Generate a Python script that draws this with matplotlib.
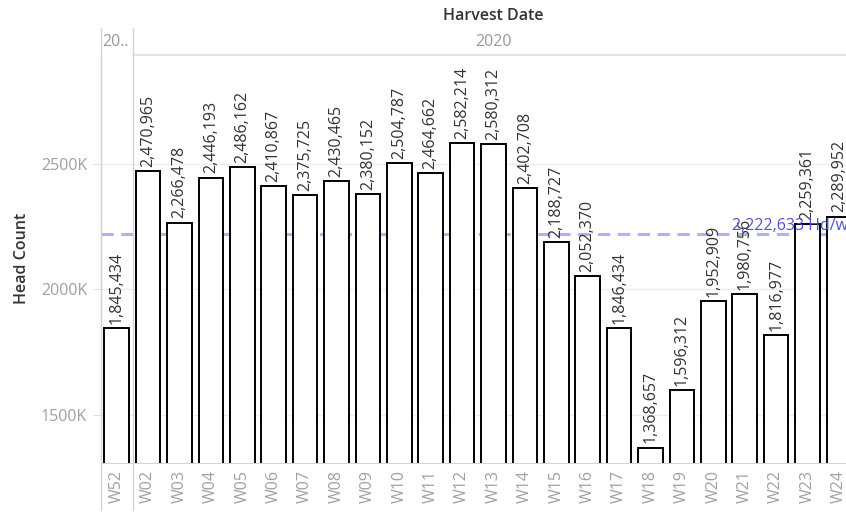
import matplotlib.pyplot as plt
from matplotlib.lines import Line2D

# weekly head count (harvest date)
weeks = ["W52", "W02", "W03", "W04", "W05", "W06", "W07", "W08", "W09", "W10",
         "W11", "W12", "W13", "W14", "W15", "W16", "W17", "W18", "W19", "W20",
         "W21", "W22", "W23", "W24"]
head_count = [1845434, 2470965, 2266478, 2446193, 2486162, 2410867, 2375725,
              2430465, 2380152, 2504787, 2464662, 2582214, 2580312, 2402708,
              2188727, 2052370, 1846434, 1368657, 1596312, 1952909, 1980756,
              1816977, 2259361, 2289952]
avg_line = 2222633
yticks = [1500000, 2000000, 2500000]
ytick_labels = ["1500K", "2000K", "2500K"]
years = ["20..", "2020"]

plt.rcParams['font.family'] = ['Open Sans', 'DejaVu Sans']

W, H = 846, 514
fig = plt.figure(figsize=(W / 100, H / 100), dpi=100)
# axes a bit wider than the figure: the last column is cut like in the original
ax = fig.add_axes([101 / W, 1 - 463 / H, 753.6 / W, (463 - 55) / H])

x = list(range(len(weeks)))
ax.bar(x, head_count, width=0.78, facecolor="white", edgecolor="black", linewidth=1.4, zorder=3)
for i, v in zip(x, head_count):
  ax.annotate("{:,}".format(v), (i, v), xytext=(0, 3), textcoords="offset points",
              rotation=90, ha="center", va="bottom", fontsize=11.5, color="#333333",
              zorder=4, annotation_clip=False)

# reference line
ax.axhline(avg_line, color="#b0b0f4", lw=2.2, ls=(0, (4, 2.5)), zorder=2)
ax.text(0.837, avg_line, "{:,} Hd/wk".format(avg_line), transform=ax.get_yaxis_transform(),
        ha="left", va="bottom", fontsize=11.5, color="#5050dd", zorder=5)

ax.set_xlim(-0.5, len(weeks) - 0.5)
ax.set_ylim(1307000, 2935000)
ax.set_yticks(yticks)
ax.set_yticklabels(ytick_labels)
ax.set_xticks(x)
ax.set_xticklabels(weeks, rotation=90, va="top")
ax.tick_params(axis="x", length=0, pad=5, labelsize=11.5, labelcolor="#a0a0a0")
ax.tick_params(axis="y", length=6, color="#e0e0e0", pad=4, labelsize=11.5, labelcolor="#a0a0a0")
ax.grid(axis="y", color="#eeeeee", lw=1, zorder=0)
for s in ["top", "right"]:
  ax.spines[s].set_visible(False)
ax.spines["left"].set_color("#d4d4d4")
ax.spines["bottom"].set_color("#d4d4d4")

# pane separator lines and header row
fig.add_artist(Line2D([101 / W, 101 / W], [1 - 28 / H, 1 - 510 / H], color="#d4d4d4", lw=1))
fig.add_artist(Line2D([132.5 / W, 132.5 / W], [1 - 28 / H, 1 - 510 / H], color="#d4d4d4", lw=1))
fig.add_artist(Line2D([132.5 / W, 1], [1 - 55 / H, 1 - 55 / H], color="#dddddd", lw=1.2))

fig.text(102 / W, 1 - 42 / H, years[0], ha="left", va="center", fontsize=11.5, color="#999999")
fig.text(493 / W, 1 - 42 / H, years[1], ha="center", va="center", fontsize=11.5, color="#999999")
fig.text(493 / W, 1 - 16 / H, "Harvest Date", ha="center", va="center", fontsize=11.5,
         color="#333333", fontweight="semibold")
fig.text(22 / W, 1 - 258 / H, "Head Count", ha="center", va="center", rotation=90,
         fontsize=11.5, color="#333333", fontweight="semibold")

fig.savefig("out.png", dpi=100)
